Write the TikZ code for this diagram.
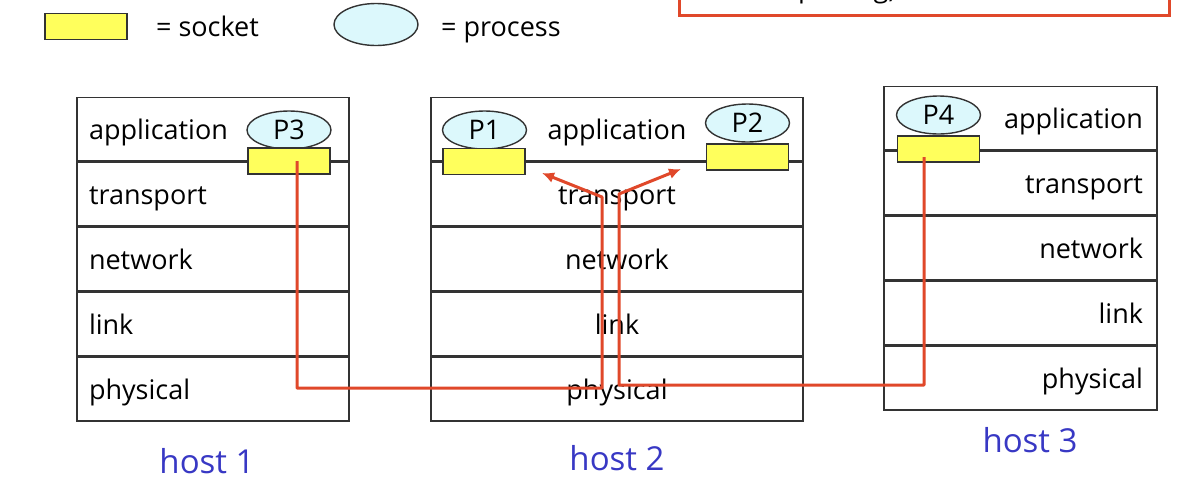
\documentclass[tikz,border=0pt]{standalone}
\usepackage{fontspec}
\setmainfont{Open Sans}
\usepackage{tikz}
\usetikzlibrary{arrows}
\usetikzlibrary{arrows.meta}
\usetikzlibrary{shapes}
\usetikzlibrary{shapes.geometric}
\usetikzlibrary{positioning}
\definecolor{msgred}{HTML}{E0482A}
\definecolor{hostblue}{HTML}{3838C4}
\definecolor{sockyellow}{HTML}{FFFF5C}
\definecolor{proccyan}{HTML}{DCF8FC}
\tikzset{>=latex}
\tikzstyle{layer} = [rectangle, draw=black!80, line width=0.7pt, minimum height=31.8pt, text height=10pt, text depth=0pt, font=\fontsize{13.5}{16}\selectfont]
\tikzstyle{layerL} = [layer, text width=124pt, inner xsep=6pt, align=left]
\tikzstyle{layerC} = [layer, minimum width=186pt]
\tikzstyle{layerR} = [layer, text width=122.5pt, inner xsep=7pt, align=right]
\tikzstyle{proc} = [ellipse, draw=black!80, line width=0.7pt, fill=proccyan, minimum width=42pt, minimum height=19pt, inner sep=0pt, font=\fontsize{13.5}{16}\selectfont]
\tikzstyle{sock} = [rectangle, draw=black!80, line width=0.7pt, fill=sockyellow, minimum width=41pt, minimum height=13pt, inner sep=0pt]
\tikzstyle{lbl} = [inner sep=0pt, text height=9.5pt, text depth=0pt, font=\fontsize{13.5}{16}\selectfont]
\tikzstyle{hostlbl} = [inner sep=0pt, text=hostblue, font=\fontsize{16.5}{20}\selectfont]
\tikzstyle{msg} = [draw=msgred, line width=1.5pt, line join=round, -{Latex[length=6pt, width=5.5pt]}]

\begin{document}
\begin{tikzpicture}[x=0.5pt, y=-0.5pt]
\useasboundingbox (0,0) rectangle (1178,488);
% legend
\node [sock] (lsock) at (86,26.5) {};
\node [lbl, right=14pt of lsock] (lsocktxt) {= socket};
\node [proc, minimum height=21pt] (lproc) at (376,24.5) {};
\node [lbl, right=11pt of lproc, yshift=-1pt] (lproctxt) {= process};
% note box, cut by the top edge
\node [draw=msgred, line width=1.5pt, anchor=south west, minimum width=245pt,
  text width=223pt, inner xsep=11pt, inner ysep=6pt, align=left,
  font=\fontsize{13.5}{16}\selectfont] (note) at (678,17) {demultiplexing)};
% host 1
\node [layerL] (h1app) at (213,129) {application};
\node [layerL, below=0pt of h1app] (h1tra) {transport};
\node [layerL, below=0pt of h1tra] (h1net) {network};
\node [layerL, below=0pt of h1net] (h1lnk) {link};
\node [layerL, below=0pt of h1lnk] (h1phy) {physical};
\node [hostlbl] (host1) at (207,461) {host 1};
% host 2
\node [layerC] (h2app) at (617,129) {application};
\node [layerC, below=0pt of h2app] (h2tra) {transport};
\node [layerC, below=0pt of h2tra] (h2net) {network};
\node [layerC, below=0pt of h2net] (h2lnk) {link};
\node [layerC, below=0pt of h2lnk] (h2phy) {physical};
\node [hostlbl] (host2) at (617,458) {host 2};
% host 3
\node [layerR] (h3app) at (1020.5,118) {application};
\node [layerR, below=0pt of h3app] (h3tra) {transport};
\node [layerR, below=0pt of h3tra] (h3net) {network};
\node [layerR, below=0pt of h3net] (h3lnk) {link};
\node [layerR, below=0pt of h3lnk] (h3phy) {physical};
\node [hostlbl] (host3) at (1030,440) {host 3};
% processes and sockets
\node [proc] (P3) at (289,130) {P3};
\node [sock] (s3) at (289,161) {};
\node [proc] (P1) at (484.5,130) {P1};
\node [sock] (s1) at (484,161.5) {};
\node [proc] (P2) at (747.5,123) {P2};
\node [sock] (s2) at (747.5,157) {};
\node [proc] (P4) at (938.5,115) {P4};
\node [sock] (s4) at (938.5,149) {};
% segments
\coordinate (b1) at (602,388);
\coordinate (j1) at (602,197);
\coordinate (t1) at (542,173);
\coordinate (b2) at (619,385);
\coordinate (j2) at (619,194);
\coordinate (t2) at (681,169);
\draw [msg] ([xshift=4pt]s3.center) |- (b1) -- (j1) -- (t1);
\draw [msg] ([xshift=-7.2pt,yshift=-4pt]s4.center) |- (b2) -- (j2) -- (t2);
\end{tikzpicture}
\end{document}
